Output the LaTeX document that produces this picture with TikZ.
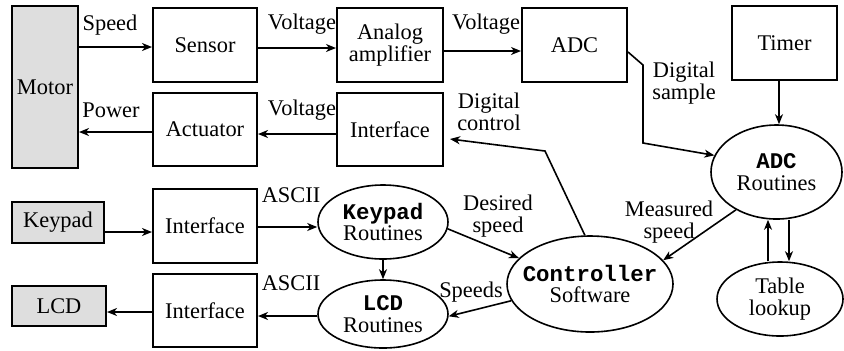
\documentclass[tikz,border=0pt]{standalone}
\usepackage{fontspec}
\setmainfont{Liberation Serif}
\setmonofont{Liberation Mono}
\usetikzlibrary{arrows.meta,shapes.geometric,calc}
\definecolor{boxgray}{gray}{0.87}
\begin{document}
\begin{tikzpicture}[x=0.5pt,y=-0.5pt,
  every node/.style={font=\fontsize{11.2}{10.8}\selectfont, inner sep=0pt, align=center},
  blk/.style={draw, line width=1pt, rectangle},
  grayblk/.style={blk, fill=boxgray},
  rnd/.style={draw, line width=0.8pt, ellipse},
  arr/.style={line width=0.8pt, -{Stealth[length=5pt,width=4pt,inset=1.5pt]}},
  lbl/.style={}]
\useasboundingbox (0,0) rectangle (844,350);
% boxes
\node[grayblk, minimum width=33pt, minimum height=81pt] (motor) at (45,87) {Motor};
\node[blk, minimum width=52pt, minimum height=37pt] (sensor) at (205,45) {Sensor};
\node[blk, minimum width=53pt, minimum height=37pt] (amp) at (390,45) {Analog\\amplifier};
\node[blk, minimum width=52.5pt, minimum height=37pt] (adc) at (574.5,45) {ADC};
\node[blk, minimum width=52.5pt, minimum height=37pt] (timer) at (784.5,43) {Timer};
\node[blk, minimum width=52pt, minimum height=36.5pt] (act) at (205,129.5) {Actuator};
\node[blk, minimum width=53pt, minimum height=36.5pt] (iface1) at (390,129.5) {Interface};
\node[grayblk, minimum width=46pt, minimum height=20.5pt] (keypad) at (58,222.5) {Keypad};
\node[blk, minimum width=52pt, minimum height=37pt] (iface2) at (205,226) {Interface};
\node[grayblk, minimum width=47pt, minimum height=20pt] (lcd) at (59,306) {LCD};
\node[blk, minimum width=52pt, minimum height=36.5pt] (iface3) at (205,310.5) {Interface};
% ellipses
\node[rnd, minimum width=65pt, minimum height=37pt] (kr) at (383,222) {\textbf{\texttt{Keypad}}\\Routines};
\node[rnd, minimum width=65pt, minimum height=34pt] (lr) at (383,314) {\textbf{\texttt{LCD}}\\Routines};
\node[rnd, minimum width=83pt, minimum height=48pt,
  label={[name=ctrltxt]center:{\textbf{\texttt{Controller}}\\Software}}] (ctrl) at (590,284) {};
\node[rnd, minimum width=65.5pt, minimum height=47pt] (adcr) at (776.5,172) {\textbf{\texttt{ADC}}\\Routines};
\node[rnd, minimum width=63pt, minimum height=37pt] (table) at (780,299) {Table\\lookup};
% bend points
\coordinate (dc) at (545,151);
\coordinate (ds1) at (643,65);
\coordinate (ds2) at (643,143);
% connectors
\draw[arr] (motor.east |- 0,47) -- (sensor.west |- 0,47);
\draw[arr] (sensor.east |- 0,48) -- (amp.west |- 0,48);
\draw[arr] (amp.east |- 0,51) -- (adc.west |- 0,51);
\draw[arr] (iface1.west |- 0,134) -- (act.east |- 0,134);
\draw[arr] (act.west |- 0,132) -- (motor.east |- 0,132);
\draw[arr] (keypad.east |- 0,232) -- (iface2.west |- 0,232);
\draw[arr] (iface2.east |- 0,227) -- (kr.west |- 0,227);
\draw[arr] (kr.south) -- (lr.north);
\draw[arr] (lr.west |- 0,316) -- (iface3.east |- 0,316);
\draw[arr] (iface3.west |- 0,312) -- (lcd.east |- 0,312);
\draw[arr] (kr.-6) -- (ctrl.160);
\draw[arr] (ctrl.192) -- (lr.-2);
\draw[arr] (ctrl.96) -- (dc) -- ($(iface1.east |- 0,139)+(6,0)$);
\draw[arr] (adc.east |- 0,52) -- (ds1) -- (ds2) -- (adcr.165);
\draw[arr] (timer.south -| 779,0) -- (adcr.north -| 779,0);
\draw[arr] (adcr.-137) -- (ctrl.18);
\draw[arr] (table.north -| 768,0) -- (adcr.south -| 768,0);
\draw[arr] (adcr.south -| 789,0) -- (table.north -| 789,0);
% labels
\node[lbl] (lspeed) at (110,25) {Speed};
\node[lbl] (lvolt1) at (302,24) {Voltage};
\node[lbl] (lvolt2) at (486,24) {Voltage};
\node[lbl] (lpower) at (111,110) {Power};
\node[lbl] (lvolt3) at (302,110) {Voltage};
\node[lbl] (ldsamp) at (684,83) {Digital\\sample};
\node[lbl] (ldctrl) at (489,112) {Digital\\control};
\node[lbl] (lascii1) at (291,195) {ASCII};
\node[lbl] (lascii2) at (291,283) {ASCII};
\node[lbl] (ldes) at (498,216) {Desired\\speed};
\node[lbl] (lmeas) at (669,222) {Measured\\speed};
\node[lbl] (lspeeds) at (471,292) {Speeds};
\end{tikzpicture}
\end{document}
